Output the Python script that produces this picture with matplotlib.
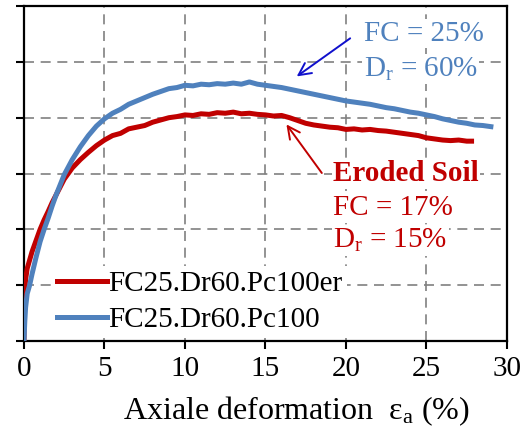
import matplotlib
matplotlib.use("Agg")
import matplotlib.pyplot as plt

plt.rcParams["font.family"] = ["Liberation Serif", "DejaVu Serif"]
plt.rcParams["mathtext.fontset"] = "custom"
plt.rcParams["mathtext.rm"] = "Liberation Serif"
plt.rcParams["mathtext.it"] = "Liberation Serif:italic"

# Eroded specimen (FC = 17 %, Dr = 15 %)
strain_er = [0, 0.02, 0.05, 0.1, 0.2, 0.35, 0.5, 0.75, 1.0, 1.25, 1.5, 1.75, 2.0,
             2.5, 3.0, 3.5, 4.0, 4.5, 5.0, 5.5, 6.0, 6.5, 7.0, 7.5, 8.0, 8.5,
             9.0, 9.5, 10.0, 10.5, 11.0, 11.5, 12.0, 12.5, 13.0, 13.5, 14.0,
             14.5, 15.0, 15.5, 16.0, 16.5, 17.0, 17.5, 18.0, 18.5, 19.0, 19.5,
             20.0, 20.5, 21.0, 21.5, 22.0, 22.5, 23.0, 23.5, 24.0, 24.5, 25.0,
             25.5, 26.0, 26.5, 27.0, 27.5, 27.8]
stress_er = [0, 0.5, 0.9, 1.1, 1.3, 1.45, 1.6, 1.8, 2.0, 2.17, 2.32, 2.48, 2.62,
             2.9, 3.1, 3.25, 3.38, 3.5, 3.6, 3.68, 3.72, 3.8, 3.83, 3.86, 3.92,
             3.96, 4.0, 4.02, 4.05, 4.04, 4.07, 4.06, 4.09, 4.08, 4.1, 4.07,
             4.08, 4.06, 4.05, 4.03, 4.04, 4.0, 3.95, 3.9, 3.87, 3.85, 3.83,
             3.82, 3.79, 3.8, 3.78, 3.79, 3.77, 3.76, 3.74, 3.72, 3.7, 3.68,
             3.64, 3.62, 3.6, 3.59, 3.6, 3.58, 3.58]

# Intact specimen (FC = 25 %, Dr = 60 %)
strain_in = [0, 0.05, 0.1, 0.2, 0.35, 0.5, 0.75, 1.0, 1.25, 1.5, 1.75, 2.0,
             2.5, 3.0, 3.5, 4.0, 4.5, 5.0, 5.5, 6.0, 6.5, 7.0, 7.5, 8.0, 8.5,
             9.0, 9.5, 10.0, 10.5, 11.0, 11.5, 12.0, 12.5, 13.0, 13.5, 14.0,
             14.5, 15.0, 15.5, 16.0, 16.5, 17.0, 17.5, 18.0, 18.5, 19.0, 19.5,
             20.0, 20.5, 21.0, 21.5, 22.0, 22.5, 23.0, 23.5, 24.0, 24.5, 25.0,
             25.5, 26.0, 26.5, 27.0, 27.5, 28.0, 28.5, 29.0]
stress_in = [0, 0.35, 0.6, 0.85, 1.0, 1.2, 1.5, 1.78, 2.0, 2.2, 2.42, 2.62,
             2.98, 3.25, 3.48, 3.68, 3.85, 3.98, 4.08, 4.15, 4.24, 4.3, 4.36,
             4.42, 4.47, 4.52, 4.54, 4.58, 4.57, 4.6, 4.59, 4.61, 4.6, 4.62,
             4.6, 4.64, 4.6, 4.58, 4.56, 4.54, 4.51, 4.48, 4.45, 4.42, 4.39,
             4.36, 4.33, 4.3, 4.28, 4.26, 4.24, 4.21, 4.18, 4.16, 4.13, 4.1,
             4.08, 4.05, 4.02, 3.98, 3.95, 3.92, 3.9, 3.87, 3.86, 3.84]

label_er = "FC25.Dr60.Pc100er"
label_in = "FC25.Dr60.Pc100"
x_ticks = [0, 5, 10, 15, 20, 25, 30]
y_ticks = [0, 1, 2, 3, 4, 5, 6]

RED = "#C00000"
BLUE = "#4F81BD"
FS = 21

fig = plt.figure(figsize=(5.27, 4.28), dpi=100)
ax = fig.add_axes([0.0455, 0.203, 0.9165, 0.783])

ax.plot(strain_er, stress_er, color=RED, lw=3.6, label=label_er, zorder=3)
ax.plot(strain_in, stress_in, color=BLUE, lw=3.6, label=label_in, zorder=3)

ax.set_xlim(0, 30)
ax.set_ylim(0, 6)
ax.set_xticks(x_ticks)
ax.set_yticks(y_ticks)
ax.set_yticklabels([])
ax.tick_params(axis="both", direction="out", length=6, width=1.5,
               labelsize=FS, pad=5)
ax.grid(True, color="#808080", ls=(0, (6, 4)), lw=1.2, zorder=0)
for s in ax.spines.values():
    s.set_linewidth(1.6)

ax.set_xlabel("Axiale deformation  ε$_\\mathrm{a}$ (%)", fontsize=23)
ax.xaxis.set_label_coords(0.563, -0.16)

leg = ax.legend(loc="lower left", bbox_to_anchor=(0.06, 0.01), fontsize=FS,
                handlelength=1.7, handletextpad=0.05, labelspacing=0.35,
                borderpad=0.15, borderaxespad=0.0, frameon=True,
                fancybox=False)
leg.get_frame().set_edgecolor("none")
leg.get_frame().set_facecolor("white")
leg.get_frame().set_alpha(1)

box = dict(facecolor="white", edgecolor="none", pad=1)
ax.text(21.1, 5.5, "FC = 25%", color=BLUE, fontsize=FS, va="center",
        ha="left", bbox=box, zorder=4)
ax.text(21.1, 4.87, "D$_\\mathrm{r}$ = 60%", color=BLUE, fontsize=FS,
        va="center", ha="left", bbox=box, zorder=4)
ax.annotate("", xy=(16.8, 4.71), xytext=(20.4, 5.45),
            arrowprops=dict(arrowstyle="->", color="#1010CC", lw=1.4,
                            mutation_scale=22), zorder=5)

ax.text(19.2, 3.0, "Eroded Soil", color=RED, fontsize=FS, fontweight="bold",
        va="center", ha="left", bbox=box, zorder=4)
ax.text(19.2, 2.38, "FC = 17%", color=RED, fontsize=FS, va="center",
        ha="left", bbox=box, zorder=4)
ax.text(19.2, 1.8, "D$_\\mathrm{r}$ = 15%", color=RED, fontsize=FS,
        va="center", ha="left", bbox=box, zorder=4)
ax.annotate("", xy=(16.2, 3.92), xytext=(18.6, 2.97),
            arrowprops=dict(arrowstyle="->", color=RED, lw=1.4,
                            mutation_scale=22), zorder=5)

fig.savefig("out.png", dpi=100)
